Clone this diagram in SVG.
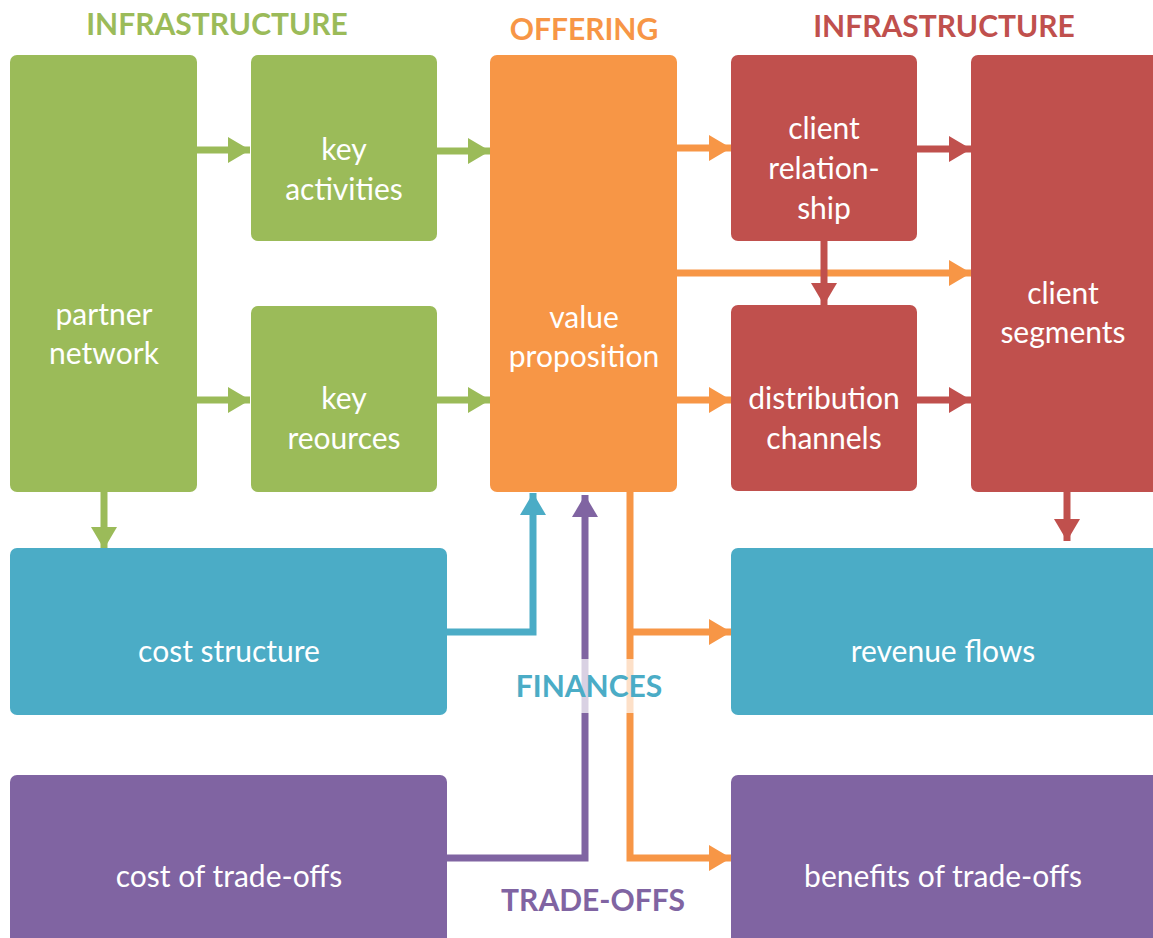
<svg xmlns="http://www.w3.org/2000/svg" width="1153" height="938" viewBox="0 0 1153 938">
<style>
.lbl{font-family:Lato,"Liberation Sans",sans-serif;font-size:30px;fill:#fff;text-anchor:middle}
.hd{font-family:Lato,"Liberation Sans",sans-serif;font-size:30px;font-weight:bold;text-anchor:middle}
.g{fill:#9BBB59}.o{fill:#F79646}.r{fill:#C0504D}.b{fill:#4BACC6}.p{fill:#8064A2}
.c{fill:none;stroke-width:7}
</style>
<defs>
<marker id="ag" markerUnits="userSpaceOnUse" markerWidth="24" markerHeight="26" refX="22" refY="13" orient="auto"><path d="M0,0 L22,13 L0,26 Z" fill="#9BBB59"/></marker>
<marker id="ao" markerUnits="userSpaceOnUse" markerWidth="24" markerHeight="26" refX="22" refY="13" orient="auto"><path d="M0,0 L22,13 L0,26 Z" fill="#F79646"/></marker>
<marker id="ar" markerUnits="userSpaceOnUse" markerWidth="24" markerHeight="26" refX="22" refY="13" orient="auto"><path d="M0,0 L22,13 L0,26 Z" fill="#C0504D"/></marker>
<marker id="ab" markerUnits="userSpaceOnUse" markerWidth="24" markerHeight="26" refX="22" refY="13" orient="auto"><path d="M0,0 L22,13 L0,26 Z" fill="#4BACC6"/></marker>
<marker id="ap" markerUnits="userSpaceOnUse" markerWidth="24" markerHeight="26" refX="22" refY="13" orient="auto"><path d="M0,0 L22,13 L0,26 Z" fill="#8064A2"/></marker>
</defs>

<text class="hd" x="217" y="35" fill="#9BBB59">INFRASTRUCTURE</text>
<text class="hd" x="584" y="40" fill="#F79646">OFFERING</text>
<text class="hd" x="944" y="37" fill="#C0504D">INFRASTRUCTURE</text>

<g id="connectors">
<path class="c" stroke="#9BBB59" d="M197,150 H250" marker-end="url(#ag)"/>
<path class="c" stroke="#9BBB59" d="M437,151 H490" marker-end="url(#ag)"/>
<path class="c" stroke="#9BBB59" d="M197,400 H250" marker-end="url(#ag)"/>
<path class="c" stroke="#9BBB59" d="M437,400 H490" marker-end="url(#ag)"/>
<path class="c" stroke="#9BBB59" d="M104,492 V549" marker-end="url(#ag)"/>
<path class="c" stroke="#F79646" d="M677,148 H731" marker-end="url(#ao)"/>
<path class="c" stroke="#F79646" d="M677,273 H971" marker-end="url(#ao)"/>
<path class="c" stroke="#F79646" d="M677,400 H731" marker-end="url(#ao)"/>
<path class="c" stroke="#C0504D" d="M917,149 H971" marker-end="url(#ar)"/>
<path class="c" stroke="#C0504D" d="M917,400 H971" marker-end="url(#ar)"/>
<path class="c" stroke="#C0504D" d="M824,241 V305" marker-end="url(#ar)"/>
<path class="c" stroke="#C0504D" d="M1067,492 V541" marker-end="url(#ar)"/>
<path class="c" stroke="#4BACC6" d="M447,632 H533 V493" marker-end="url(#ab)"/>
<path class="c" stroke="#8064A2" d="M447,858 H585 V495" marker-end="url(#ap)"/>
<path class="c" stroke="#F79646" d="M630,492 V858 H731" marker-end="url(#ao)"/>
<path class="c" stroke="#F79646" d="M630,632 H731" marker-end="url(#ao)"/>
<rect x="570" y="659" width="75" height="54" fill="#fff" fill-opacity="0.7"/>
</g>

<g id="partner-network"><rect class="g" x="10" y="55" width="187" height="437" rx="7"/><text class="lbl" x="104" y="325">partner</text><text class="lbl" x="104" y="364">network</text></g>
<g id="key-activities"><rect class="g" x="251" y="55" width="186" height="186" rx="7"/><text class="lbl" x="344" y="160">key</text><text class="lbl" x="344" y="200">activities</text></g>
<g id="key-resources"><rect class="g" x="251" y="306" width="186" height="186" rx="7"/><text class="lbl" x="344" y="409">key</text><text class="lbl" x="344" y="449">reources</text></g>
<g id="value-proposition"><rect class="o" x="490" y="55" width="187" height="437" rx="7"/><text class="lbl" x="584" y="328">value</text><text class="lbl" x="584" y="367">proposition</text></g>
<g id="client-relationship"><rect class="r" x="731" y="55" width="186" height="186" rx="7"/><text class="lbl" x="824" y="139">client</text><text class="lbl" x="824" y="179">relation-</text><text class="lbl" x="824" y="219">ship</text></g>
<g id="distribution-channels"><rect class="r" x="731" y="305" width="186" height="186" rx="7"/><text class="lbl" x="824" y="409">distribution</text><text class="lbl" x="824" y="449">channels</text></g>
<g id="client-segments"><rect class="r" x="971" y="55" width="192" height="437" rx="7"/><text class="lbl" x="1063" y="304">client</text><text class="lbl" x="1063" y="343">segments</text></g>
<g id="cost-structure"><rect class="b" x="10" y="548" width="437" height="167" rx="7"/><text class="lbl" x="229" y="662">cost structure</text></g>
<g id="revenue-flows"><rect class="b" x="731" y="548" width="432" height="167" rx="7"/><text class="lbl" x="943" y="662">revenue flows</text></g>
<g id="cost-of-trade-offs"><rect class="p" x="10" y="775" width="437" height="173" rx="7"/><text class="lbl" x="229" y="887">cost of trade-offs</text></g>
<g id="benefits-of-trade-offs"><rect class="p" x="731" y="775" width="432" height="173" rx="7"/><text class="lbl" x="943" y="887">benefits of trade-offs</text></g>

<text class="hd" x="589" y="697" fill="#4BACC6">FINANCES</text>
<text class="hd" x="593" y="911" fill="#8064A2">TRADE-OFFS</text>
</svg>
